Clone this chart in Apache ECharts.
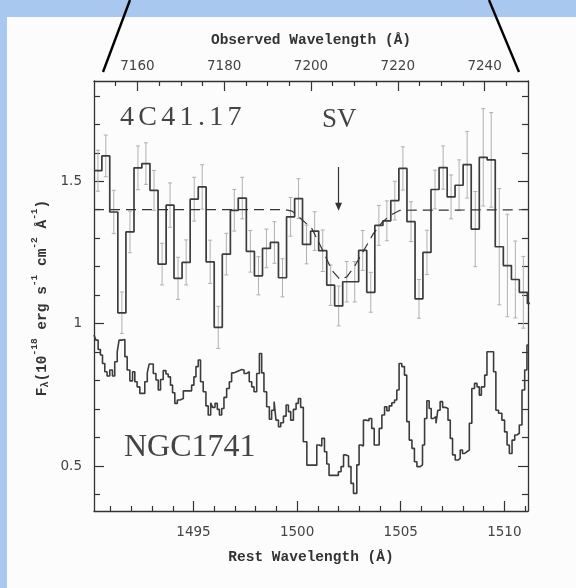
<!DOCTYPE html>
<html><head><meta charset="utf-8">
<script src="https://cdn.jsdelivr.net/npm/echarts@6/dist/echarts.min.js"></script>
<style>html,body{margin:0;padding:0;background:#a8c8f0;}#c{width:576px;height:588px;}</style>
</head><body><div id="c"></div>
<script>
// ---- axes ----
const restRange = [1490.2, 1511.14];
const obsRange = [7150, 7250];
const fluxRange = [0.342, 1.852];
const restMajor = [1495, 1500, 1505, 1510];
const restMinor = [1491,1492,1493,1494,1496,1497,1498,1499,1501,1502,1503,1504,1506,1507,1508,1509,1511];
const obsMajor = [7160, 7180, 7200, 7220, 7240];
const obsMinor = [7155,7165,7170,7175,7185,7190,7195,7205,7210,7215,7225,7230,7235,7245];
const fluxMajor = [0.5, 1, 1.5];
const fluxMinor = [0.4,0.6,0.7,0.8,0.9,1.1,1.2,1.3,1.4,1.6,1.7,1.8];

// ---- 4C41.17 binned spectrum (rest wavelength bin starts) ----
const qsoBinStart = [1490.20,1490.58,1490.96,1491.35,1491.74,1492.13,1492.51,1492.90,1493.29,1493.68,
  1494.06,1494.45,1494.84,1495.23,1495.61,1496.00,1496.39,1496.78,1497.16,1497.55,
  1497.94,1498.33,1498.71,1499.10,1499.49,1499.88,1500.26,1500.65,1501.04,1501.43,
  1501.81,1502.20,1502.59,1502.97,1503.36,1503.75,1504.14,1504.52,1504.91,1505.30,
  1505.69,1506.07,1506.46,1506.85,1507.24,1507.62,1508.01,1508.40,1508.79,1509.17,
  1509.56,1509.95,1510.34,1510.72,1511.11];
const qsoBinEnd = 1511.50;
const qsoFlux = [1.537,1.589,1.392,1.038,1.322,1.547,1.562,1.468,1.209,1.416,
  1.159,1.215,1.437,1.480,1.217,0.987,1.244,1.398,1.441,1.254,
  1.168,1.264,1.285,1.161,1.375,1.439,1.278,1.325,1.256,1.135,
  1.062,1.147,1.147,1.257,1.110,1.345,1.361,1.432,1.545,1.358,
  1.087,1.250,1.471,1.548,1.445,1.486,1.558,1.332,1.584,1.575,
  1.270,1.204,1.155,1.110,1.071];
const qsoErr = [0.072,0.073,0.076,0.073,0.073,0.077,0.073,0.070,0.073,0.078,
  0.074,0.079,0.077,0.078,0.076,0.074,0.073,0.073,0.073,0.073,
  0.067,0.068,0.073,0.067,0.068,0.070,0.068,0.068,0.073,0.071,
  0.070,0.071,0.071,0.070,0.070,0.070,0.070,0.068,0.076,0.070,
  0.068,0.078,0.068,0.076,0.077,0.089,0.117,0.132,0.171,0.166,
  0.204,0.180,0.135,0.126,0.120];

// ---- continuum + SV absorption fit (dashed) ----
const fitWave = [1490.2,1499.42,1499.76,1500.05,1500.71,1501.19,1501.67,1502.07,1502.40,1502.80,1503.36,1503.68,1504.09,1504.49,1504.97,1511.14];
const fitFlux = [1.40,1.40,1.395,1.377,1.334,1.264,1.188,1.155,1.164,1.205,1.275,1.316,1.355,1.380,1.398,1.40];

// ---- SV arrow ----
const svWave = 1502.0;
const svArrowFlux = [1.55, 1.41];

// ---- NGC1741 spectrum (bin starts, flux) ----
const ngcBinStart = [1490.20,1490.29,1490.40,1490.51,1490.61,1490.72,1490.83,1490.96,1491.09,1491.20,
  1491.32,1491.41,1491.53,1491.69,1491.80,1491.93,1492.06,1492.17,1492.28,1492.41,
  1492.65,1492.77,1492.86,1493.06,1493.19,1493.30,1493.41,1493.54,1493.67,1493.78,
  1493.89,1493.99,1494.10,1494.22,1494.35,1494.51,1494.91,1495.02,1495.12,1495.23,
  1495.34,1495.47,1495.60,1495.71,1495.83,1495.92,1496.04,1496.15,1496.25,1496.36,
  1496.47,1496.60,1496.73,1496.84,1496.95,1497.08,1497.21,1497.32,1497.44,1497.57,
  1497.69,1497.81,1497.92,1498.05,1498.18,1498.29,1498.40,1498.53,1498.66,1498.77,
  1498.89,1498.98,1499.10,1499.21,1499.34,1499.47,1499.58,1499.69,1499.82,1499.95,
  1500.06,1500.17,1500.30,1500.47,1500.95,1501.06,1501.19,1501.32,1501.43,1501.54,
  1501.99,1502.12,1502.24,1502.35,1502.48,1502.60,1502.72,1502.88,1502.99,1503.09,
  1503.20,1503.31,1503.47,1503.60,1503.72,1503.96,1504.09,1504.22,1504.33,1504.44,
  1504.57,1504.70,1504.81,1504.92,1505.05,1505.18,1505.29,1505.41,1505.54,1505.66,
  1505.78,1505.94,1506.05,1506.15,1506.26,1506.37,1506.47,1506.58,1506.70,1506.79,
  1506.90,1507.02,1507.15,1507.28,1507.39,1507.50,1507.63,1507.76,1507.87,1507.98,
  1508.08,1508.19,1508.31,1508.43,1508.56,1508.68,1508.79,1508.89,1509.05,1509.16,
  1509.48,1509.59,1509.72,1509.88,1510.01,1510.13,1510.24,1510.37,1510.50,1510.61,
  1510.72,1510.85,1510.98,1511.09];
const ngcBinEnd = 1511.14;
const ngcFlux = [0.960,0.942,0.909,0.890,0.860,0.831,0.816,0.837,0.816,0.866,
  0.901,0.942,0.944,0.884,0.837,0.799,0.831,0.796,0.778,0.755,
  0.796,0.827,0.858,0.825,0.802,0.767,0.804,0.835,0.823,0.813,
  0.784,0.757,0.720,0.732,0.737,0.764,0.784,0.813,0.849,0.872,
  0.796,0.761,0.711,0.679,0.722,0.706,0.720,0.699,0.679,0.702,
  0.741,0.772,0.796,0.827,0.831,0.835,0.839,0.837,0.825,0.831,
  0.796,0.778,0.761,0.825,0.895,0.827,0.761,0.708,0.664,0.696,
  0.726,0.661,0.638,0.652,0.675,0.714,0.691,0.661,0.699,0.720,
  0.737,0.706,0.585,0.503,0.574,0.570,0.597,0.550,0.507,0.467,
  0.480,0.498,0.539,0.535,0.498,0.439,0.404,0.504,0.574,0.570,
  0.661,0.659,0.667,0.632,0.574,0.632,0.679,0.708,0.694,0.711,
  0.722,0.732,0.767,0.860,0.849,0.819,0.656,0.591,0.562,0.515,
  0.498,0.504,0.574,0.667,0.729,0.702,0.667,0.673,0.650,0.696,
  0.726,0.706,0.702,0.661,0.597,0.539,0.521,0.527,0.556,0.544,
  0.550,0.556,0.650,0.772,0.790,0.778,0.749,0.778,0.819,0.901,
  0.831,0.696,0.685,0.661,0.620,0.574,0.544,0.591,0.609,0.615,
  0.644,0.767,0.837,0.925];

// ---- texts ----
const topTitle = 'Observed Wavelength (Å)';
const bottomTitle = 'Rest Wavelength (Å)';
const qsoName = '4C41.17';
const ngcName = 'NGC1741';
const svName = 'SV';

function steps(starts, vals, end) {
  const d = starts.map((s, i) => [s, vals[i]]);
  d.push([end, vals[vals.length - 1]]);
  return d;
}
const qsoErrData = qsoBinStart.map((s, i) => {
  const e = i < qsoBinStart.length - 1 ? qsoBinStart[i + 1] : qsoBinEnd;
  return [(s + e) / 2, qsoFlux[i], qsoErr[i]];
});

const ink = '#333';
const lblFont = { fontFamily: 'DejaVu Sans', fontSize: 13.5, color: '#444' };
const plain = v => String(v);

function xAx(pos, range, vals, len, labels, line) {
  return {
    type: 'value', position: pos, min: range[0], max: range[1],
    gridIndex: 0,
    axisLine: { show: line, onZero: false, lineStyle: { color: ink, width: 1.3 } },
    axisTick: { show: true, inside: true, length: len, customValues: vals, lineStyle: { color: ink, width: 1.2 } },
    axisLabel: Object.assign({ show: labels, customValues: vals, formatter: plain, margin: pos === 'top' ? 8 : 14 }, lblFont),
    splitLine: { show: false }
  };
}
function yAx(pos, vals, len, labels, line) {
  return {
    type: 'value', position: pos, min: fluxRange[0], max: fluxRange[1],
    axisLine: { show: line, onZero: false, lineStyle: { color: ink, width: 1.3 } },
    axisTick: { show: true, inside: true, length: len, customValues: vals, lineStyle: { color: ink, width: 1.2 } },
    axisLabel: Object.assign({ show: labels, customValues: vals, formatter: plain, margin: 12 }, lblFont),
    splitLine: { show: false }
  };
}

const chart = echarts.init(document.getElementById('c'), null, { renderer: 'canvas' });
chart.setOption({
  animation: false,
  backgroundColor: '#a8c8f0',
  grid: { left: 94, top: 81, width: 434, height: 430 },
  xAxis: [
    xAx('bottom', restRange, restMajor, 10, true, true),
    xAx('bottom', restRange, restMinor, 5, false, false),
    xAx('top', obsRange, obsMajor, 10, true, true),
    xAx('top', obsRange, obsMinor, 5, false, false)
  ],
  yAxis: [
    yAx('left', fluxMajor, 10, true, true),
    yAx('left', fluxMinor, 6, false, false),
    yAx('right', fluxMajor, 10, false, true),
    yAx('right', fluxMinor, 6, false, false)
  ],
  graphic: [
    { type: 'rect', z: -10, shape: { x: 7, y: 17, width: 569, height: 571 }, style: { fill: '#fcfcfc' } },
    { type: 'line', z: 10, shape: { x1: 130, y1: 0, x2: 103, y2: 72 }, style: { stroke: '#000', lineWidth: 2.4 } },
    { type: 'line', z: 10, shape: { x1: 489, y1: 0, x2: 519, y2: 72 }, style: { stroke: '#000', lineWidth: 2.4 } },
    { type: 'text', z: 10, style: { x: 311, y: 40, text: topTitle, align: 'center', verticalAlign: 'middle',
        font: 'bold 14.5px "Liberation Mono"', fill: '#333' } },
    { type: 'text', z: 10, style: { x: 311, y: 557, text: bottomTitle, align: 'center', verticalAlign: 'middle',
        font: 'bold 14.5px "Liberation Mono"', fill: '#333' } },
    { type: 'text', z: 10, x: 40, y: 298, rotation: Math.PI / 2, style: {
        text: '{m|F}{s|λ}{m|(10}{p|-18}{m| erg s}{p|-1}{m| cm}{p|-2}{m| Å}{p|-1}{m|)}',
        align: 'center', verticalAlign: 'middle', fill: '#333',
        rich: {
          m: { fontFamily: 'Liberation Mono', fontWeight: 'bold', fontSize: 14.5, lineHeight: 20, verticalAlign: 'bottom', fill: '#333' },
          s: { fontFamily: 'Liberation Mono', fontWeight: 'bold', fontSize: 10, lineHeight: 20, verticalAlign: 'bottom', fill: '#333' },
          p: { fontFamily: 'Liberation Mono', fontWeight: 'bold', fontSize: 9.5, lineHeight: 20, verticalAlign: 'top', fill: '#333' }
        } } },
    { type: 'text', z: 10, style: { x: 120, y: 132, verticalAlign: 'bottom',
        text: qsoName.split('').map(c => '{a|' + c + '}').join(''),
        rich: { a: { fontFamily: 'Liberation Serif', fontSize: 28, fill: '#444', padding: [0, 4.3, 0, 0] } } } },
    { type: 'text', z: 10, style: { x: 322, y: 133, verticalAlign: 'bottom', text: svName,
        font: '27px "Liberation Serif"', fill: '#444' } },
    { type: 'text', z: 10, style: { x: 124, y: 464, verticalAlign: 'bottom', text: ngcName,
        font: '32px "Liberation Serif"', fill: '#444' } }
  ],
  series: [
    {
      type: 'custom', xAxisIndex: 0, yAxisIndex: 0, z: 1, clip: true,
      renderItem: function (params, api) {
        const x = api.value(0), y = api.value(1), e = api.value(2);
        const t = api.coord([x, y + e]), b = api.coord([x, y - e]);
        const st = { stroke: '#b0b0b0', lineWidth: 1 };
        return { type: 'group', children: [
          { type: 'line', shape: { x1: t[0], y1: t[1], x2: b[0], y2: b[1] }, style: st },
          { type: 'line', shape: { x1: t[0] - 2, y1: t[1], x2: t[0] + 2, y2: t[1] }, style: st },
          { type: 'line', shape: { x1: b[0] - 2, y1: b[1], x2: b[0] + 2, y2: b[1] }, style: st }
        ] };
      },
      data: qsoErrData
    },
    {
      type: 'line', xAxisIndex: 0, yAxisIndex: 0, z: 3, step: 'end', showSymbol: false, symbol: 'none',
      clip: true, lineStyle: { color: '#3c3c3c', width: 1.7 },
      data: steps(qsoBinStart, qsoFlux, qsoBinEnd)
    },
    {
      type: 'line', xAxisIndex: 0, yAxisIndex: 0, z: 3, step: 'end', showSymbol: false, symbol: 'none',
      clip: true, lineStyle: { color: '#3c3c3c', width: 1.6 },
      data: steps(ngcBinStart, ngcFlux, ngcBinEnd)
    },
    {
      type: 'line', xAxisIndex: 0, yAxisIndex: 0, z: 4, showSymbol: false, symbol: 'none', smooth: false,
      lineStyle: { color: '#333', width: 1.2, type: [10, 6] },
      data: fitWave.map((w, i) => [w, fitFlux[i]])
    },
    {
      type: 'line', xAxisIndex: 0, yAxisIndex: 0, z: 4, data: [],
      markLine: {
        silent: true, animation: false, symbol: ['none', 'triangle'], symbolSize: [7, 8],
        label: { show: false },
        lineStyle: { color: '#333', width: 1.2, type: 'solid' },
        data: [[{ coord: [svWave, svArrowFlux[0]] }, { coord: [svWave, svArrowFlux[1]] }]]
      }
    }
  ]
});
</script></body></html>
